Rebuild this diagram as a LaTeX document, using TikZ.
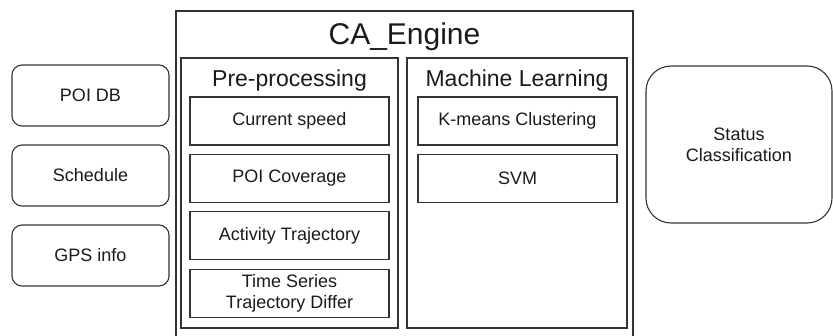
\documentclass[tikz,border=0pt]{standalone}
\usepackage{fontspec}
\setmainfont{Liberation Sans}
\usetikzlibrary{positioning}

\definecolor{edge}{HTML}{333333}
\definecolor{ink}{HTML}{1A1A1A}

\tikzset{
	group/.style={draw=edge, line width=1.1pt},
	src/.style={draw=edge, line width=1.1pt, rounded corners=10pt,
		minimum width=157pt, minimum height=61pt, text=ink,
		font=\fontsize{18}{21}\selectfont},
	item/.style={draw=edge, line width=1.2pt, minimum width=199pt,
		minimum height=48pt, align=center, text=ink,
		font=\fontsize{18}{21}\selectfont},
	heading/.style={text=ink, font=\fontsize{23}{27}\selectfont},
}

\begin{document}
\begin{tikzpicture}[x=1pt,y=-1pt]
		\useasboundingbox (0,0) rectangle (833,336);
		
		% inputs on the left
		\node[src] (poidb) at (90.5,95.5) {POI DB};
		\node[src] (sched) at (90.5,175.5) {Schedule};
		\node[src] (gps) at (90.5,255.5) {GPS info};
		
		% the engine with its two parts
		\draw[group] (176,11) rectangle (633,345);
		\node[text=ink, font=\fontsize{30}{36}\selectfont] (engine) 
		at (404.5,37) {CA\_Engine};
		
		\draw[group] (181,58) rectangle (398,328);
		\node[heading] (pre) at (289.5,81) {Pre-processing};
		\node[item] (speed) at (289.5,121) {Current speed};
		\node[item, below=8pt of speed] (cover) {POI Coverage};
		\node[item, below=8pt of cover] (activity) {Activity Trajectory};
		\node[item, below=9pt of activity] (series) 
		{Time Series\\Trajectory Differ};
		
		\draw[group] (407,58) rectangle (627,328);
		\node[heading] (ml) at (517,81) {Machine Learning};
		\node[item] (kmeans) at (517.5,121) {K-means Clustering};
		\node[item, below=8pt of kmeans] (svm) {SVM};
		
		% output
		\node[src, rounded corners=25pt, minimum width=186pt, 
		minimum height=157pt, align=center] (status) at (739,144.5) 
		{Status\\Classification};
	\end{tikzpicture}
\end{document}
